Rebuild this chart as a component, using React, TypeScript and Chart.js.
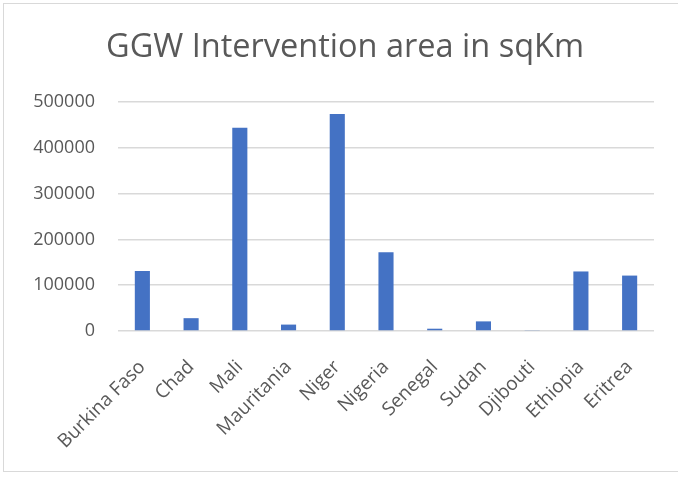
import React, { useEffect, useRef } from "react";
import { Chart, registerables } from "chart.js";

Chart.register(...registerables);

const title = "GGW Intervention area in sqKm";
const countries = ["Burkina Faso", "Chad", "Mali", "Mauritania", "Niger", "Nigeria", "Senegal", "Sudan", "Djibouti", "Ethiopia", "Eritrea"];
const areas = [131000, 28000, 444000, 14000, 474000, 172000, 5000, 21000, 2000, 130000, 121000];
const yMin = 0;
const yMax = 500000;
const yStep = 100000;

const FONT = "'Open Sans', 'Noto Sans', sans-serif";
const TEXT = "#595959";

export default function App() {
  const ref = useRef<HTMLCanvasElement | null>(null);
  useEffect(() => {
    document.body.style.margin = "0";
    const ctx = ref.current!.getContext("2d")!;
    const chart = new Chart(ctx, {
      type: "bar",
      data: {
        labels: countries,
        datasets: [
          {
            data: areas,
            backgroundColor: "#4472C4",
            borderWidth: 0,
            barPercentage: 0.31,
            categoryPercentage: 1,
            yAxisID: "y",
          },
        ],
      },
      options: {
        animation: false,
        responsive: false,
        maintainAspectRatio: false,
        layout: { padding: { left: 12, right: 0, top: 0, bottom: 0 } },
        plugins: {
          legend: { display: false },
          tooltip: { enabled: false },
          title: {
            display: true,
            text: title,
            color: TEXT,
            font: { family: FONT, size: 32.5, weight: "normal", lineHeight: 1.2 },
            padding: { top: 28, bottom: 35 },
          },
        },
        scales: {
          x: {
            grid: { display: false, drawTicks: false },
            border: { display: false },
            ticks: {
              color: TEXT,
              font: { family: FONT, size: 19 },
              maxRotation: 45,
              minRotation: 45,
              padding: 25,
              autoSkip: false,
            },
            afterFit: (s: any) => {
              s.height = 146;
            },
          },
          y: {
            min: yMin,
            max: yMax,
            grid: { color: "#d9d9d9", lineWidth: 1.5, drawTicks: false },
            border: { display: false },
            ticks: {
              stepSize: yStep,
              color: TEXT,
              font: { family: FONT, size: 18 },
              padding: 23,
              callback: (v: any) => String(v),
            },
            afterFit: (s: any) => {
              s.width = 106;
            },
          },
          yRight: {
            position: "right",
            min: yMin,
            max: yMax,
            grid: { display: false, drawTicks: false },
            border: { display: false },
            ticks: { display: false },
            afterFit: (s: any) => {
              s.width = 24;
            },
          },
        },
      },
    });
    return () => chart.destroy();
  }, []);
  return (
    <div style={{ position: "fixed", left: 0, top: 0, width: 678, height: 477, background: "#fff" }}>
      <canvas ref={ref} width={678} height={477} style={{ position: "absolute", left: 0, top: 0 }} />
      <div
        style={{
          position: "absolute",
          left: 3,
          top: 3,
          width: 690,
          height: 467,
          border: "1.5px solid #d9d9d9",
          pointerEvents: "none",
        }}
      />
    </div>
  );
}
